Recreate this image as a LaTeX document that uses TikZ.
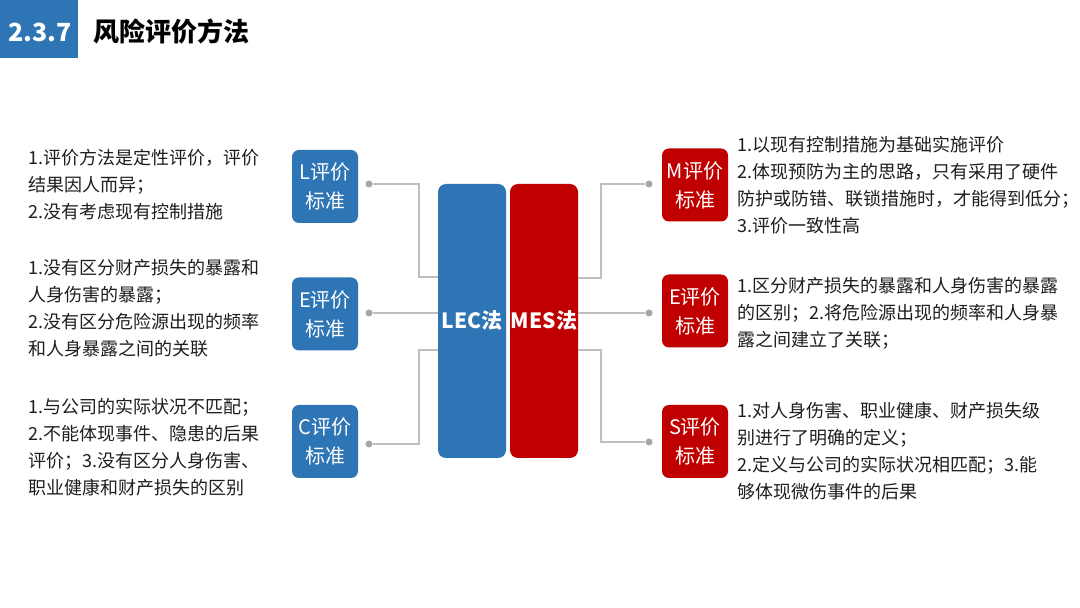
\documentclass[tikz,border=0pt]{standalone}
\usepackage{fontspec}
\setmainfont{Noto Sans CJK SC}
\begin{document}
\begin{tikzpicture}[x=1pt,y=1pt,
  critbox/.style={rounded corners=7pt,minimum width=66pt,minimum height=73pt,inner sep=0pt,text=white,align=center,font=\fontsize{20}{29}\selectfont},
  methodbar/.style={rounded corners=8pt,minimum width=68pt,minimum height=274pt,inner sep=0pt,text=white,font=\fontsize{21}{21}\selectfont\bfseries},
  note/.style={anchor=north west,inner sep=0pt,align=left,text=textColor,font=\fontsize{18}{27}\selectfont},
  link/.style={draw=lineColor,line width=1.3pt},
  pin/.style={circle,fill=dotColor,minimum size=7pt,inner sep=0pt}]
\definecolor{fillColor}{RGB}{255,255,255}
\definecolor{blueColor}{RGB}{46,117,182}
\definecolor{redColor}{RGB}{192,0,0}
\definecolor{textColor}{RGB}{30,30,30}
\definecolor{lineColor}{RGB}{191,191,191}
\definecolor{dotColor}{RGB}{166,166,166}
\path[use as bounding box,fill=fillColor] (0,0) rectangle (1080,608);

\path[fill=blueColor] (0,550) rectangle (78,608);
\node[text=white,inner sep=0pt,font=\fontsize{25}{25}\selectfont\bfseries] (secnum) at (40,576) {2.3.7};
\node[anchor=west,text=black,inner sep=0pt,font=\fontsize{26}{26}\selectfont\bfseries] (title) at (93,576) {风险评价方法};

\node[methodbar,fill=blueColor] (lec) at (472,287) {LEC法};
\node[methodbar,fill=redColor] (mes) at (544,287) {MES法};

\node[critbox,fill=blueColor] (lbox) at (325,421.5) {L评价\\标准};
\node[critbox,fill=blueColor] (ebox) at (325,294) {E评价\\标准};
\node[critbox,fill=blueColor] (cbox) at (325,166.5) {C评价\\标准};
\node[critbox,fill=redColor] (mbox) at (695,423) {M评价\\标准};
\node[critbox,fill=redColor] (erbox) at (695,297) {E评价\\标准};
\node[critbox,fill=redColor] (sbox) at (695,166.5) {S评价\\标准};

\node[pin] (ldot) at (369,424) {};
\node[pin] (edot) at (369,295) {};
\node[pin] (cdot) at (369,164) {};
\node[pin] (mdot) at (649,424) {};
\node[pin] (erdot) at (649,295) {};
\node[pin] (sdot) at (649,166) {};

\coordinate (lturn) at (419,331);
\coordinate (cturn) at (419,258);
\coordinate (mturn) at (601,330);
\coordinate (sturn) at (601,258);

\path[link] (ldot) -| (lturn) -- (lturn -| lec.west);
\path[link] (edot) -- (edot -| lec.west);
\path[link] (cdot) -| (cturn) -- (cturn -| lec.west);
\path[link] (mdot) -| (mturn) -- (mturn -| mes.east);
\path[link] (erdot) -- (erdot -| mes.east);
\path[link] (sdot) -| (sturn) -- (sturn -| mes.east);

\node[note] (lnote) at (28,459) {1.评价方法是定性评价，评价\\结果因人而异；\\2.没有考虑现有控制措施};
\node[note] (enote) at (28,349) {1.没有区分财产损失的暴露和\\人身伤害的暴露；\\2.没有区分危险源出现的频率\\和人身暴露之间的关联};
\node[note] (cnote) at (28,210) {1.与公司的实际状况不匹配；\\2.不能体现事件、隐患的后果\\评价；3.没有区分人身伤害、\\职业健康和财产损失的区别};
\node[note] (mnote) at (737,472) {1.以现有控制措施为基础实施评价\\2.体现预防为主的思路，只有采用了硬件\\防护或防错、联锁措施时，才能得到低分；\\3.评价一致性高};
\node[note] (ernote) at (737,331) {1.区分财产损失的暴露和人身伤害的暴露\\的区别；2.将危险源出现的频率和人身暴\\露之间建立了关联；};
\node[note] (snote) at (737,206) {1.对人身伤害、职业健康、财产损失级\\别进行了明确的定义；\\2.定义与公司的实际状况相匹配；3.能\\够体现微伤事件的后果};
\end{tikzpicture}
\end{document}
